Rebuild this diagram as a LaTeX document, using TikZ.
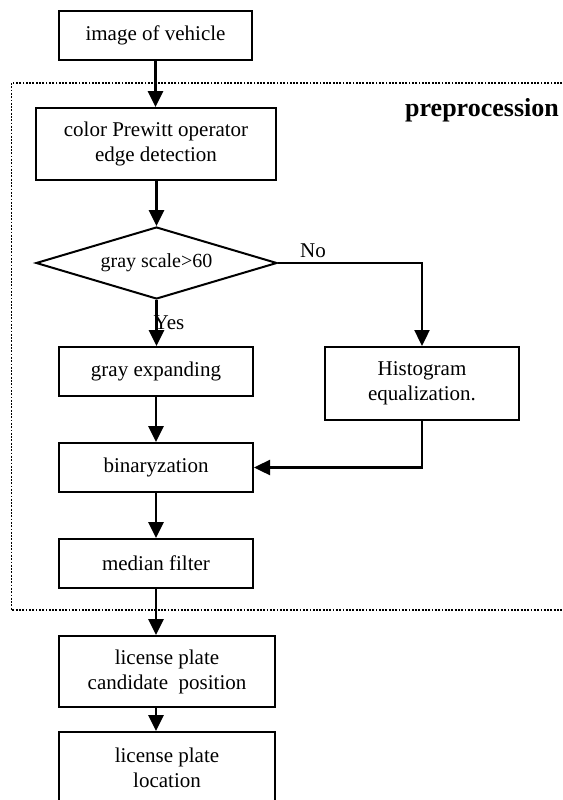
\documentclass[tikz,border=0pt]{standalone}
\usepackage{fontspec}
\setmainfont{Liberation Serif}
\usetikzlibrary{shapes.geometric,arrows.meta,calc}

\begin{document}
\begin{tikzpicture}[x=1pt,y=-1pt,
	box/.style={draw,line width=2pt,rectangle,align=center,inner sep=0pt,font=\fontsize{21}{25}\selectfont},
	decision/.style={draw,line width=2pt,diamond,aspect=3.3,inner sep=0pt,minimum width=241pt,minimum height=72pt,font=\fontsize{20}{24}\selectfont},
	flow/.style={line width=2.8pt,-{Triangle[length=16pt,width=15pt]}},
	tag/.style={font=\fontsize{21}{25}\selectfont,inner sep=0pt}]
	\clip (0,0) rectangle (562,800);
	% preprocessing frame
	\draw[line width=1.9pt,dash pattern=on 1.8pt off 1.5pt] (11.5,83) rectangle (570,610);
	\node[font=\bfseries\fontsize{26}{30}\selectfont,anchor=east,inner sep=0pt] (pre) at (559,110) {preprocession};
	% steps
	\node[box,minimum width=193pt,minimum height=49pt] (img) at (155.5,35.5) {image of vehicle};
	\node[box,minimum width=240pt,minimum height=72pt] (prewitt) at (156,144) {color Prewitt operator\\edge detection};
	\node[decision] (dia) at (156.5,263) {gray scale>60};
	\node[box,minimum width=194pt,minimum height=49pt] (gray) at (156,371.5) {gray expanding};
	\node[box,minimum width=194pt,minimum height=73pt] (hist) at (422,383.5) {Histogram\\equalization.};
	\node[box,minimum width=194pt,minimum height=49pt] (bin) at (156,467.5) {binaryzation};
	\node[box,minimum width=194pt,minimum height=49pt] (med) at (156,563.5) {median filter};
	\node[box,minimum width=216pt,minimum height=71pt] (cand) at (167,671.5) {license plate\\candidate\ \ position};
	\node[box,minimum width=216pt,minimum height=71pt] (loc) at (167,767.5) {license plate\\location};
	% connectors
	\draw[flow] (img.south) -- (img.south |- prewitt.north);
	\draw[flow] (prewitt.south -| dia.north) -- (dia.north);
	\draw[flow] (dia.south) -- (dia.south |- gray.north);
	\draw[flow,line width=2.4pt] (dia.east) -| (hist.north);
	\node[tag] (no) at (313,251) {No};
	\node[tag] (yes) at (169,323) {Yes};
	\draw[flow] (gray) -- (bin);
	\draw[flow,line width=2.4pt] (hist.south) |- (bin.east);
	\draw[flow] (bin) -- (med);
	\draw[flow] (med.south) -- (med.south |- cand.north);
	\draw[flow] (med.south |- cand.south) -- (med.south |- loc.north);
\end{tikzpicture}
\end{document}
